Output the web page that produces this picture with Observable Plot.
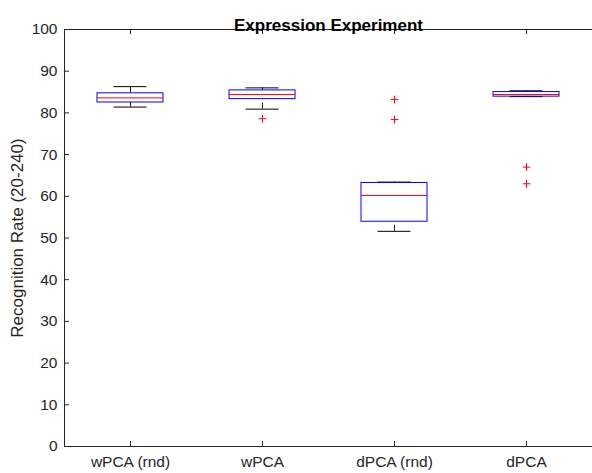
<!DOCTYPE html>
<html>
<head>
<meta charset="utf-8">
<script src="https://cdn.jsdelivr.net/npm/d3@7"></script>
<script src="https://cdn.jsdelivr.net/npm/@observablehq/plot@0.6"></script>
<style>
  html, body { margin: 0; padding: 0; background: #fff; }
  #chart svg { display: block; }
</style>
</head>
<body>
<div id="chart"></div>
<script>
// ---- data ----
const categories = ["wPCA (rnd)", "wPCA", "dPCA (rnd)", "dPCA"];
const q1 =          [82.5, 83.3, 53.9, 83.9];
const medians =     [83.6, 84.4, 60.2, 84.4];
const q3 =          [84.7, 85.4, 63.2, 85.0];
const whiskerLow =  [81.4, 80.9, 51.6, 83.9];
const whiskerHigh = [86.3, 86.0, 63.4, 85.3];
const outlierCategory = ["wPCA", "dPCA (rnd)", "dPCA (rnd)", "dPCA", "dPCA"];
const outlierValue =    [78.6, 83.2, 78.4, 67.0, 63.0];
const yTicks = [0, 10, 20, 30, 40, 50, 60, 70, 80, 90, 100];
const title = "Expression Experiment";
const yLabel = "Recognition Rate (20-240)";

// ---- build tables ----
const boxes = categories.map((c, i) => ({
  cat: c, q1: q1[i], med: medians[i], q3: q3[i], lo: whiskerLow[i], hi: whiskerHigh[i]
}));
const outliers = outlierCategory.map((c, i) => ({cat: c, value: outlierValue[i]}));

const W = 592, H = 473;
const mt = 29, mb = 27, ml = 64, mr = 0;
const plotW = W - ml - mr, plotH = H - mt - mb;
const step = plotW / categories.length;
const boxW = step / 2;
const axisColor = "#262626";
const font = "'Liberation Sans', Arial, Helvetica, sans-serif";

const chart = Plot.plot({
  width: W,
  height: H,
  marginTop: mt,
  marginBottom: mb,
  marginLeft: ml,
  marginRight: mr,
  style: {fontFamily: font, fontSize: "15.5px", color: axisColor, background: "#fff"},
  x: {type: "band", domain: categories, paddingInner: 0.5, paddingOuter: 0.25, label: null},
  y: {domain: [0, 100], label: null},
  marks: [
    // axis labels
    Plot.axisY(yTicks, {tickSize: 0, tickPadding: 7, fontSize: 15.5, fill: axisColor}),
    Plot.axisX({tickSize: 0, tickPadding: 9, fontSize: 15.5, fill: axisColor}),
    // inward ticks
    Plot.tickY(yTicks, {y: d => d, insetRight: plotW - 5, stroke: axisColor}),
    Plot.tickX(categories, {x: d => d, insetTop: plotH - 5, stroke: axisColor}),
    Plot.tickX(categories, {x: d => d, insetBottom: plotH - 5, stroke: axisColor}),
    // whiskers (dashed)
    Plot.ruleX(boxes, {x: "cat", y1: "q3", y2: "hi", stroke: "black", strokeDasharray: "6,4", strokeWidth: 0.9}),
    Plot.ruleX(boxes, {x: "cat", y1: "lo", y2: "q1", stroke: "black", strokeDasharray: "6,4", strokeWidth: 0.9}),
    // whisker caps
    Plot.tickY(boxes, {x: "cat", y: "hi", stroke: "black", insetLeft: boxW / 4, insetRight: boxW / 4}),
    Plot.tickY(boxes, {x: "cat", y: "lo", stroke: "black", insetLeft: boxW / 4, insetRight: boxW / 4}),
    // box
    Plot.barY(boxes, {x: "cat", y1: "q1", y2: "q3", fill: "none", stroke: "#0000ff"}),
    // median
    Plot.tickY(boxes, {x: "cat", y: "med", stroke: "#ff0000", strokeWidth: 1}),
    // outliers
    Plot.dot(outliers, {x: "cat", y: "value", symbol: "plus", r: 2.6, stroke: "#ff0000", strokeWidth: 1}),
    // frame lines (left, top, bottom)
    Plot.frame({anchor: "left", stroke: axisColor}),
    Plot.frame({anchor: "top", stroke: axisColor}),
    Plot.frame({anchor: "bottom", stroke: axisColor}),
    // title
    Plot.text([title], {frameAnchor: "top", dy: -11, fontWeight: "bold", fontSize: 17, fill: "black"}),
    // y label
    Plot.text([yLabel], {frameAnchor: "left", textAnchor: "middle", dx: -47, rotate: -90, fontSize: 17, fill: axisColor})
  ]
});
document.getElementById("chart").appendChild(chart);
</script>
</body>
</html>
